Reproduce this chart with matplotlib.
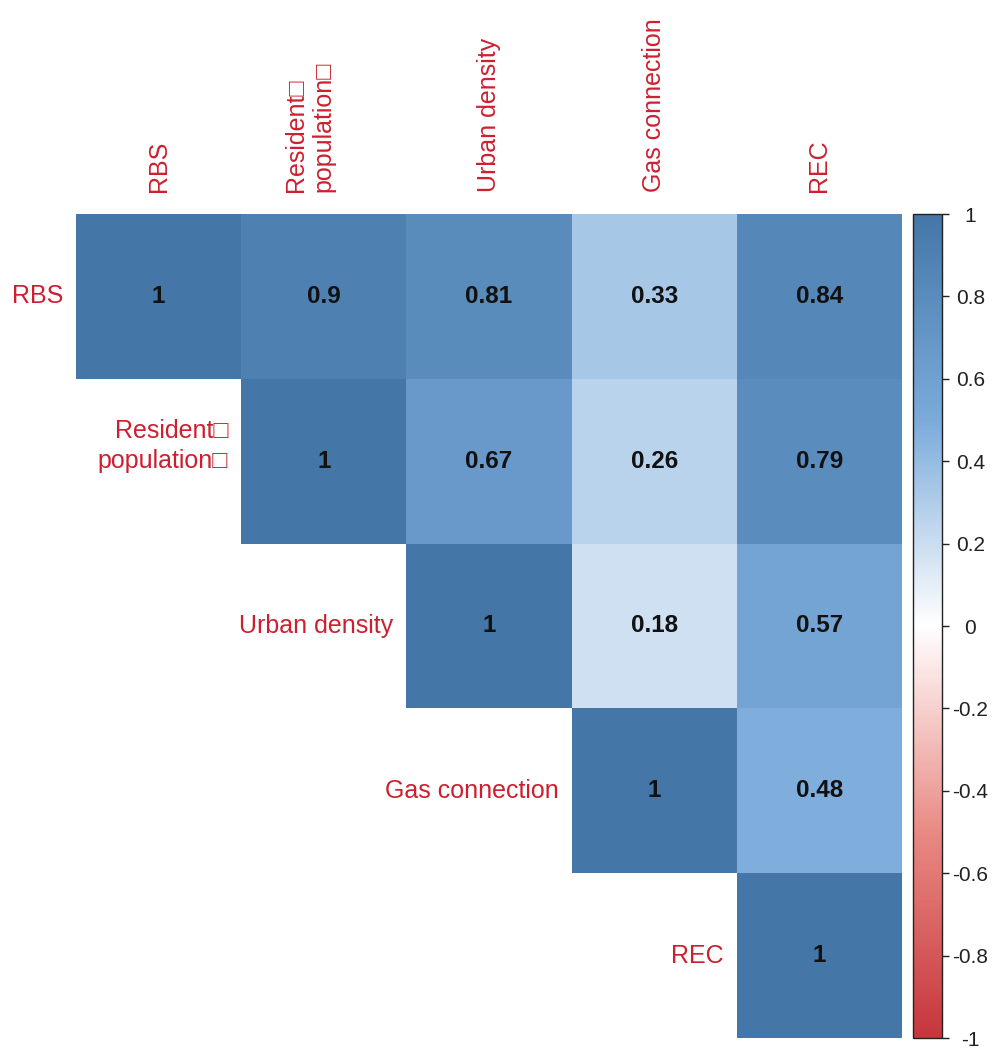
import numpy as np
import matplotlib
matplotlib.use("Agg")
import matplotlib.pyplot as plt
from matplotlib.colors import LinearSegmentedColormap, Normalize
from matplotlib.colorbar import ColorbarBase

plt.rcParams['font.family'] = ['Liberation Sans', 'DejaVu Sans']

# Variables and their correlation coefficients (upper triangle)
variables = ["RBS", "Resident\u25a1\npopulation\u25a1\n", "Urban density",
             "Gas connection", "REC"]
row_rbs = [1, 0.9, 0.81, 0.33, 0.84]
row_resident = [0.9, 1, 0.67, 0.26, 0.79]
row_urban = [0.81, 0.67, 1, 0.18, 0.57]
row_gas = [0.33, 0.26, 0.18, 1, 0.48]
row_rec = [0.84, 0.79, 0.57, 0.48, 1]
cbar_ticks = [1, 0.8, 0.6, 0.4, 0.2, 0, -0.2, -0.4, -0.6, -0.8, -1]

corr = np.array([row_rbs, row_resident, row_urban, row_gas, row_rec])
n = len(variables)

cmap = LinearSegmentedColormap.from_list(
    "rdbu_soft",
    [(0.0, "#C6363C"), (0.25, "#E98A84"), (0.5, "#FFFFFF"),
     (0.75, "#7BABDB"), (1.0, "#4477A8")])
norm = Normalize(vmin=-1, vmax=1)

W, H = 993, 1048
fig = plt.figure(figsize=(W / 100, H / 100), dpi=100)
fig.patch.set_facecolor("white")

# heatmap axes
gx0, gx1, gy0, gy1 = 76, 902, 214, 1038
ax = fig.add_axes([gx0 / W, 1 - gy1 / H, (gx1 - gx0) / W, (gy1 - gy0) / H])

mask = np.tril(np.ones_like(corr, dtype=bool), k=-1)
masked = np.ma.array(corr, mask=mask)
ax.pcolormesh(np.arange(n + 1), np.arange(n + 1), masked, cmap=cmap,
              norm=norm, edgecolors="none", antialiased=False)
ax.set_xlim(0, n)
ax.set_ylim(n, 0)
for s in ax.spines.values():
    s.set_visible(False)

label_color = "#CC2030"

# column labels along the top
ax.xaxis.tick_top()
ax.set_xticks(np.arange(n) + 0.5)
ax.set_xticklabels(variables, rotation=90, ha="center", va="bottom",
                   fontsize=18, color=label_color, linespacing=1.2)
for lab in ax.get_xticklabels():
    lab.set_multialignment("left")
ax.tick_params(axis="x", length=0, pad=16)
ax.set_yticks([])

# row labels sit just left of the diagonal cell
for i, name in enumerate(variables):
    ax.annotate(name, xy=(i, i + 0.5), xytext=(-13, 0),
                textcoords="offset pixels", ha="right", va="center",
                fontsize=18, color=label_color, linespacing=1.3)

# coefficient values
for i in range(n):
    for j in range(i, n):
        v = corr[i, j]
        txt = f"{v:g}"
        ax.text(j + 0.5, i + 0.5, txt, ha="center", va="center",
                fontsize=17.5, fontweight="bold", color="#111111")

# colour legend
cax = fig.add_axes([913 / W, 1 - gy1 / H, (942 - 913) / W, (gy1 - gy0) / H])
cb = ColorbarBase(cax, cmap=cmap, norm=norm, orientation="vertical")
cb.outline.set_linewidth(1.0)
cb.outline.set_edgecolor("#222222")
cb.set_ticks(cbar_ticks)
cb.set_ticklabels([f"{t:g}" for t in cbar_ticks])
cax.tick_params(axis="y", length=5, width=1, color="#222222", pad=15.5,
                labelsize=15, labelcolor="#222222")
for lab in cax.get_yticklabels():
    lab.set_ha("center")

fig.savefig("out.png", dpi=100, facecolor="white")
